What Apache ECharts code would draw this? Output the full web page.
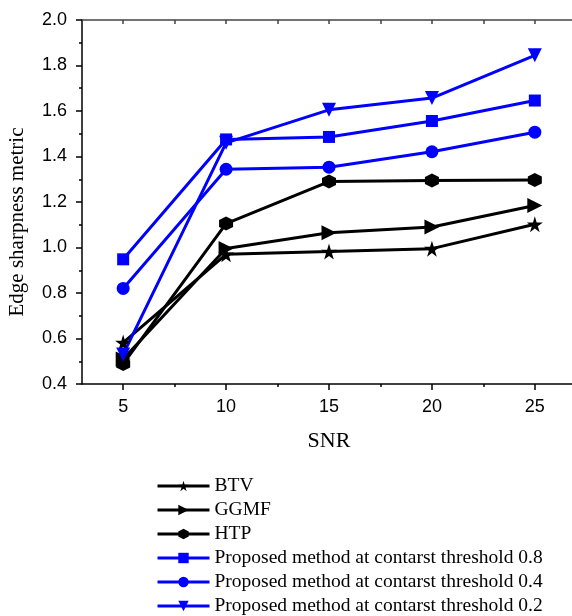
<!DOCTYPE html>
<html>
<head>
<meta charset="utf-8">
<script src="https://cdn.jsdelivr.net/npm/echarts@6/dist/echarts.min.js"></script>
<style>
  html, body { margin: 0; padding: 0; background: #fff; }
  #chart { width: 572px; height: 616px; }
</style>
</head>
<body>
<div id="chart"></div>
<script>
// SNR values on x
var snr = [5, 10, 15, 20, 25];
var majorTicks = [5, 10, 15, 20, 25];
var minorTicks = [7.5, 12.5, 17.5, 22.5];
var allTicks = [5, 7.5, 10, 12.5, 15, 17.5, 20, 22.5, 25];

var names = [
  "BTV",
  "GGMF",
  "HTP",
  "Proposed method at contarst threshold 0.8",
  "Proposed method at contarst threshold 0.4",
  "Proposed method at contarst threshold 0.2"
];
var btv = [0.582, 0.970, 0.982, 0.995, 1.102];
var ggmf = [0.51, 0.996, 1.065, 1.09, 1.185];
var htp = [0.488, 1.105, 1.29, 1.294, 1.297];
var prop08 = [0.948, 1.475, 1.486, 1.556, 1.646];
var prop04 = [0.82, 1.344, 1.353, 1.421, 1.507];
var prop02 = [0.53, 1.46, 1.605, 1.657, 1.845];

var starPath = "path://M50,0 L61,35 L98,35 L68,57 L79,91 L50,70 L21,91 L32,57 L2,35 L39,35 Z";
var hexPath = "path://M50,0 L93,25 L93,75 L50,100 L7,75 L7,25 Z";

function pairs(ys) {
  return snr.map(function (x, i) { return [x, ys[i]]; });
}

function mk(name, ys, color, symbol, size, rot) {
  return {
    name: name,
    type: "line",
    xAxisIndex: 0,
    data: pairs(ys),
    symbol: symbol,
    symbolSize: size,
    symbolRotate: rot || 0,
    showAllSymbol: true,
    lineStyle: { color: color, width: 3 },
    itemStyle: { color: color },
    emphasis: { disabled: true },
    animation: false
  };
}

var chart = echarts.init(document.getElementById("chart"), null, { renderer: "canvas" });

var option = {
  animation: false,
  grid: { left: 82, top: 20, right: -4, bottom: 232, outerBoundsMode: "none" },
  legend: {
    orient: "vertical",
    left: 156,
    top: 476,
    height: 140,
    itemWidth: 52,
    itemHeight: 13,
    itemGap: 4,
    padding: 0,
    lineStyle: { width: 3 },
    textStyle: { fontFamily: "Liberation Serif", fontSize: 19.5, color: "#000", lineHeight: 20 },
    data: names
  },
  xAxis: [
    {
      type: "value",
      position: "bottom",
      min: 3,
      max: 27,
      name: "SNR",
      nameLocation: "middle",
      nameGap: 46,
      nameTextStyle: { fontFamily: "Liberation Serif", fontSize: 22, color: "#000" },
      axisLine: { lineStyle: { color: "#000", width: 1.5 } },
      axisTick: { customValues: majorTicks, length: 6, lineStyle: { color: "#000", width: 1.5 } },
      axisLabel: { customValues: majorTicks, margin: 14, fontFamily: "Liberation Sans", fontSize: 18, color: "#000" },
      splitLine: { show: false }
    },
    {
      type: "value",
      position: "bottom",
      min: 3,
      max: 27,
      axisLine: { show: false },
      axisTick: { customValues: minorTicks, length: 3, lineStyle: { color: "#000", width: 1.5 } },
      axisLabel: { show: false },
      splitLine: { show: false }
    },
    {
      type: "value",
      position: "top",
      min: 3,
      max: 27,
      axisLine: { lineStyle: { color: "#444", width: 1.5 } },
      axisTick: { customValues: allTicks, inside: true, length: 4, lineStyle: { color: "#444", width: 1.5 } },
      axisLabel: { show: false },
      splitLine: { show: false }
    }
  ],
  yAxis: {
    type: "value",
    min: 0.4,
    max: 2.0,
    interval: 0.2,
    name: "Edge sharpness metric",
    nameLocation: "middle",
    nameGap: 54,
    nameRotate: 90,
    nameTextStyle: { fontFamily: "Liberation Serif", fontSize: 21, color: "#000", padding: [0, 40, 0, 0] },
    axisLine: { show: true, lineStyle: { color: "#000", width: 1.5 } },
    axisTick: { show: true, length: 6, lineStyle: { color: "#000", width: 1.5 } },
    minorTick: { show: true, splitNumber: 2, length: 3, lineStyle: { color: "#000", width: 1.5 } },
    axisLabel: {
      margin: 15,
      fontFamily: "Liberation Sans",
      fontSize: 18,
      color: "#000",
      formatter: function (v) { return v.toFixed(1); }
    },
    splitLine: { show: false }
  },
  series: [
    mk(names[0], btv, "#000", starPath, 16),
    mk(names[1], ggmf, "#000", "triangle", 15, -90),
    mk(names[2], htp, "#000", hexPath, 14),
    mk(names[3], prop08, "#0000ff", "rect", 12),
    mk(names[4], prop04, "#0000ff", "circle", 13),
    mk(names[5], prop02, "#0000ff", "triangle", 14, 180)
  ]
};

chart.setOption(option);
</script>
</body>
</html>
